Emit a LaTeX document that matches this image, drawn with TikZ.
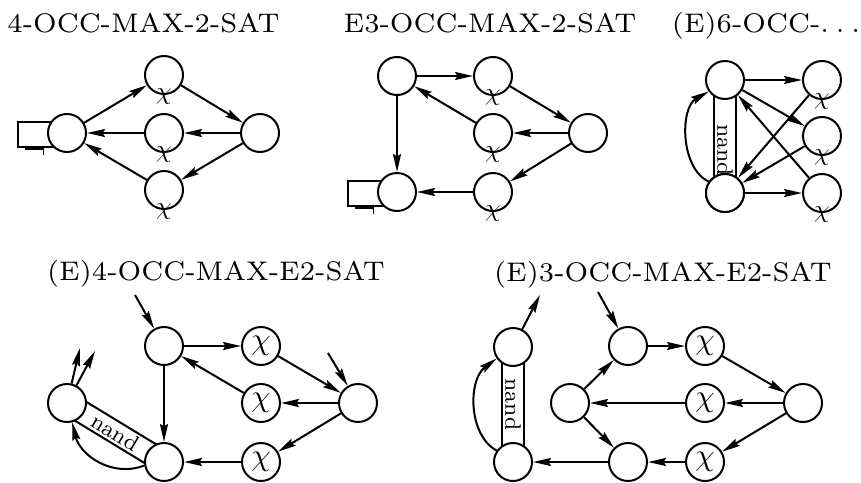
\documentclass[tikz,border=0pt]{standalone}
\usepackage{graphicx}
\usetikzlibrary{arrows.meta,calc}
\newcommand\bigchi[1]{\scalebox{#1}{$\chi$}}
\begin{document}
\begin{tikzpicture}[x=1pt,y=-1pt,
  vert/.style={circle,draw,fill=white,line width=2pt,minimum size=38pt,inner sep=0pt},
  arr/.style={line width=2pt,-{Stealth[length=18pt,width=8pt,inset=2.5pt]}},
  band/.style={line width=2pt},
  title/.style={anchor=base,font=\fontsize{7}{8}\selectfont,scale=3.85,inner sep=0pt},
  chimark/.style={font=\fontsize{10}{12}\selectfont,inner sep=0pt},
  chiin/.style={font=\fontsize{10}{12}\selectfont},
  nandtxt/.style={font=\fontsize{8}{9}\selectfont,scale=2.8,inner sep=0pt},
  ]
\useasboundingbox[fill=white] (0,0) rectangle (861,482);

% ---------- 4-OCC-MAX-2-SAT ----------
\node[title] (t1) at (143.5,32) {4-OCC-MAX-2-SAT};
\draw[line width=1.6pt] (18,122) rectangle (55,147);
\draw[line width=2.6pt] (25,148.5) -- (43,148.5);
\draw[line width=1pt] (43,148) -- (43,155);
\node[vert] (a1L) at (67,133) {};
\node[vert] (a1T) at (164,75) {};
\node[vert] (a1M) at (164,133) {};
\node[vert] (a1B) at (164,190) {};
\node[vert] (a1R) at (260,133) {};
\draw[arr] (a1L) -- (a1T);
\draw[arr] (a1T) -- (a1R);
\draw[arr] (a1R) -- (a1M);
\draw[arr] (a1M) -- (a1L);
\draw[arr] (a1R) -- (a1B);
\draw[arr] (a1B) -- (a1L);
\foreach \n in {a1T,a1M,a1B} \node[chimark] at ([yshift=-1.5pt]\n.south) {\bigchi{2.5}};

% ---------- E3-OCC-MAX-2-SAT ----------
\node[title] (t2) at (490,32) {E3-OCC-MAX-2-SAT};
\draw[line width=1.6pt] (348,181) rectangle (385,206);
\draw[line width=2.6pt] (355,207.5) -- (373,207.5);
\draw[line width=1pt] (373,207) -- (373,214);
\node[vert] (b2A) at (397,76) {};
\node[vert] (b2B) at (493,76) {};
\node[vert] (b2C) at (493,133) {};
\node[vert] (b2R) at (588,133) {};
\node[vert] (b2D) at (493,192) {};
\node[vert] (b2E) at (397,192) {};
\draw[arr] (b2A) -- (b2B);
\draw[arr] (b2B) -- (b2R);
\draw[arr] (b2R) -- (b2C);
\draw[arr] (b2C) -- (b2A);
\draw[arr] (b2R) -- (b2D);
\draw[arr] (b2D) -- (b2E);
\draw[arr] (b2A) -- (b2E);
\foreach \n in {b2B,b2C,b2D} \node[chimark] at ([yshift=-1.5pt]\n.south) {\bigchi{2.5}};

% ---------- (E)6-OCC-... ----------
\node[title] (t3) at (766,32) {(E)6-OCC-.\kern0.25em.\kern0.25em.};
\node[vert] (c3TL) at (725,80) {};
\node[vert] (c3BL) at (725,193) {};
\node[vert] (c3R1) at (822,80) {};
\node[vert] (c3R2) at (822,136) {};
\node[vert] (c3R3) at (822,193) {};
\draw[band] ($(c3TL)!15.5pt!(c3BL)!11pt!90:(c3BL)$) -- ($(c3BL)!15.5pt!(c3TL)!11pt!-90:(c3TL)$);
\draw[band] ($(c3TL)!15.5pt!(c3BL)!11pt!-90:(c3BL)$) -- ($(c3BL)!15.5pt!(c3TL)!11pt!90:(c3TL)$);
\node[nandtxt,rotate=-90] at (725,150) {nand};
\node[vert] at (c3BL) {};
\draw[arr] (c3TL) -- (c3R1);
\draw[arr] (c3TL) -- (c3R2);
\draw[arr] (c3R1) -- (c3BL);
\draw[arr] (c3R2) -- (c3BL);
\draw[arr] (c3R3) -- (c3TL);
\draw[arr] (c3BL) -- (c3R3);
\draw[arr] (c3BL.145) .. controls (680,168) and (680,108) .. (c3TL.215);
\foreach \n in {c3R1,c3R2,c3R3} \node[chimark] at ([yshift=-1.5pt]\n.south) {\bigchi{2.5}};

% ---------- (E)4-OCC-MAX-E2-SAT ----------
\node[title] (t4) at (216,280) {(E)4-OCC-MAX-E2-SAT};
\node[vert] (d4L) at (67,403) {};
\node[vert] (d4T) at (164,346) {};
\node[vert] (d4B) at (164,462) {};
\node[vert,chiin] (d4X1) at (261,346) {\bigchi{3.1}};
\node[vert,chiin] (d4X2) at (261,403) {\bigchi{3.1}};
\node[vert,chiin] (d4X3) at (261,462) {\bigchi{3.1}};
\node[vert] (d4R) at (358,403) {};
\coordinate (d4inT) at (135,295);
\coordinate (d4inR) at (328,353);
\coordinate (d4out1) at (80,348);
\coordinate (d4out2) at (95,351);
\draw[band] ($(d4L)!15.5pt!(d4B)!11pt!90:(d4B)$) -- ($(d4B)!15.5pt!(d4L)!11pt!-90:(d4L)$);
\draw[band] ($(d4L)!15.5pt!(d4B)!11pt!-90:(d4B)$) -- ($(d4B)!15.5pt!(d4L)!11pt!90:(d4L)$);
\node[nandtxt,rotate=-31] at ($(d4L)!0.5!(d4B)$) {nand};
\draw[arr] (d4T) -- (d4X1);
\draw[arr] (d4X1) -- (d4R);
\draw[arr] (d4R) -- (d4X2);
\draw[arr] (d4X2) -- (d4T);
\draw[arr] (d4R) -- (d4X3);
\draw[arr] (d4X3) -- (d4B);
\draw[arr] (d4T) -- (d4B);
\draw[arr] (d4inT) -- (d4T);
\draw[arr] (d4inR) -- (d4R);
\draw[arr] (d4L) -- (d4out1);
\draw[arr] (d4L) -- (d4out2);
\draw[arr] (d4B.190) .. controls (112,478) and (80,455) .. (d4L.-75);

% ---------- (E)3-OCC-MAX-E2-SAT ----------
\node[title] (t5) at (663,281) {(E)3-OCC-MAX-E2-SAT};
\node[vert] (e5NT) at (513,347) {};
\node[vert] (e5NB) at (513,462) {};
\node[vert] (e5M) at (570,403) {};
\node[vert] (e5T) at (628,346) {};
\node[vert] (e5B) at (628,462) {};
\node[vert,chiin] (e5X1) at (705,346) {\bigchi{3.1}};
\node[vert,chiin] (e5X2) at (705,403) {\bigchi{3.1}};
\node[vert,chiin] (e5X3) at (705,462) {\bigchi{3.1}};
\node[vert] (e5R) at (803,403) {};
\coordinate (e5inT) at (598,292);
\coordinate (e5out) at (540,295);
\draw[band] ($(e5NT)!15.5pt!(e5NB)!11pt!90:(e5NB)$) -- ($(e5NB)!15.5pt!(e5NT)!11pt!-90:(e5NT)$);
\draw[band] ($(e5NT)!15.5pt!(e5NB)!11pt!-90:(e5NB)$) -- ($(e5NB)!15.5pt!(e5NT)!11pt!90:(e5NT)$);
\node[nandtxt,rotate=-90] at ($(e5NT)!0.5!(e5NB)$) {nand};
\draw[arr] (e5T) -- (e5X1);
\draw[arr] (e5X1) -- (e5R);
\draw[arr] (e5R) -- (e5X2);
\draw[arr] (e5X2) -- (e5M);
\draw[arr] (e5R) -- (e5X3);
\draw[arr] (e5X3) -- (e5B);
\draw[arr] (e5B) -- (e5NB);
\draw[arr] (e5M) -- (e5T);
\draw[arr] (e5M) -- (e5B);
\draw[arr] (e5NT) -- (e5out);
\draw[arr] (e5inT) -- (e5T);
\draw[arr] (e5NB.145) .. controls (468,435) and (468,380) .. (e5NT.215);
\end{tikzpicture}
\end{document}
